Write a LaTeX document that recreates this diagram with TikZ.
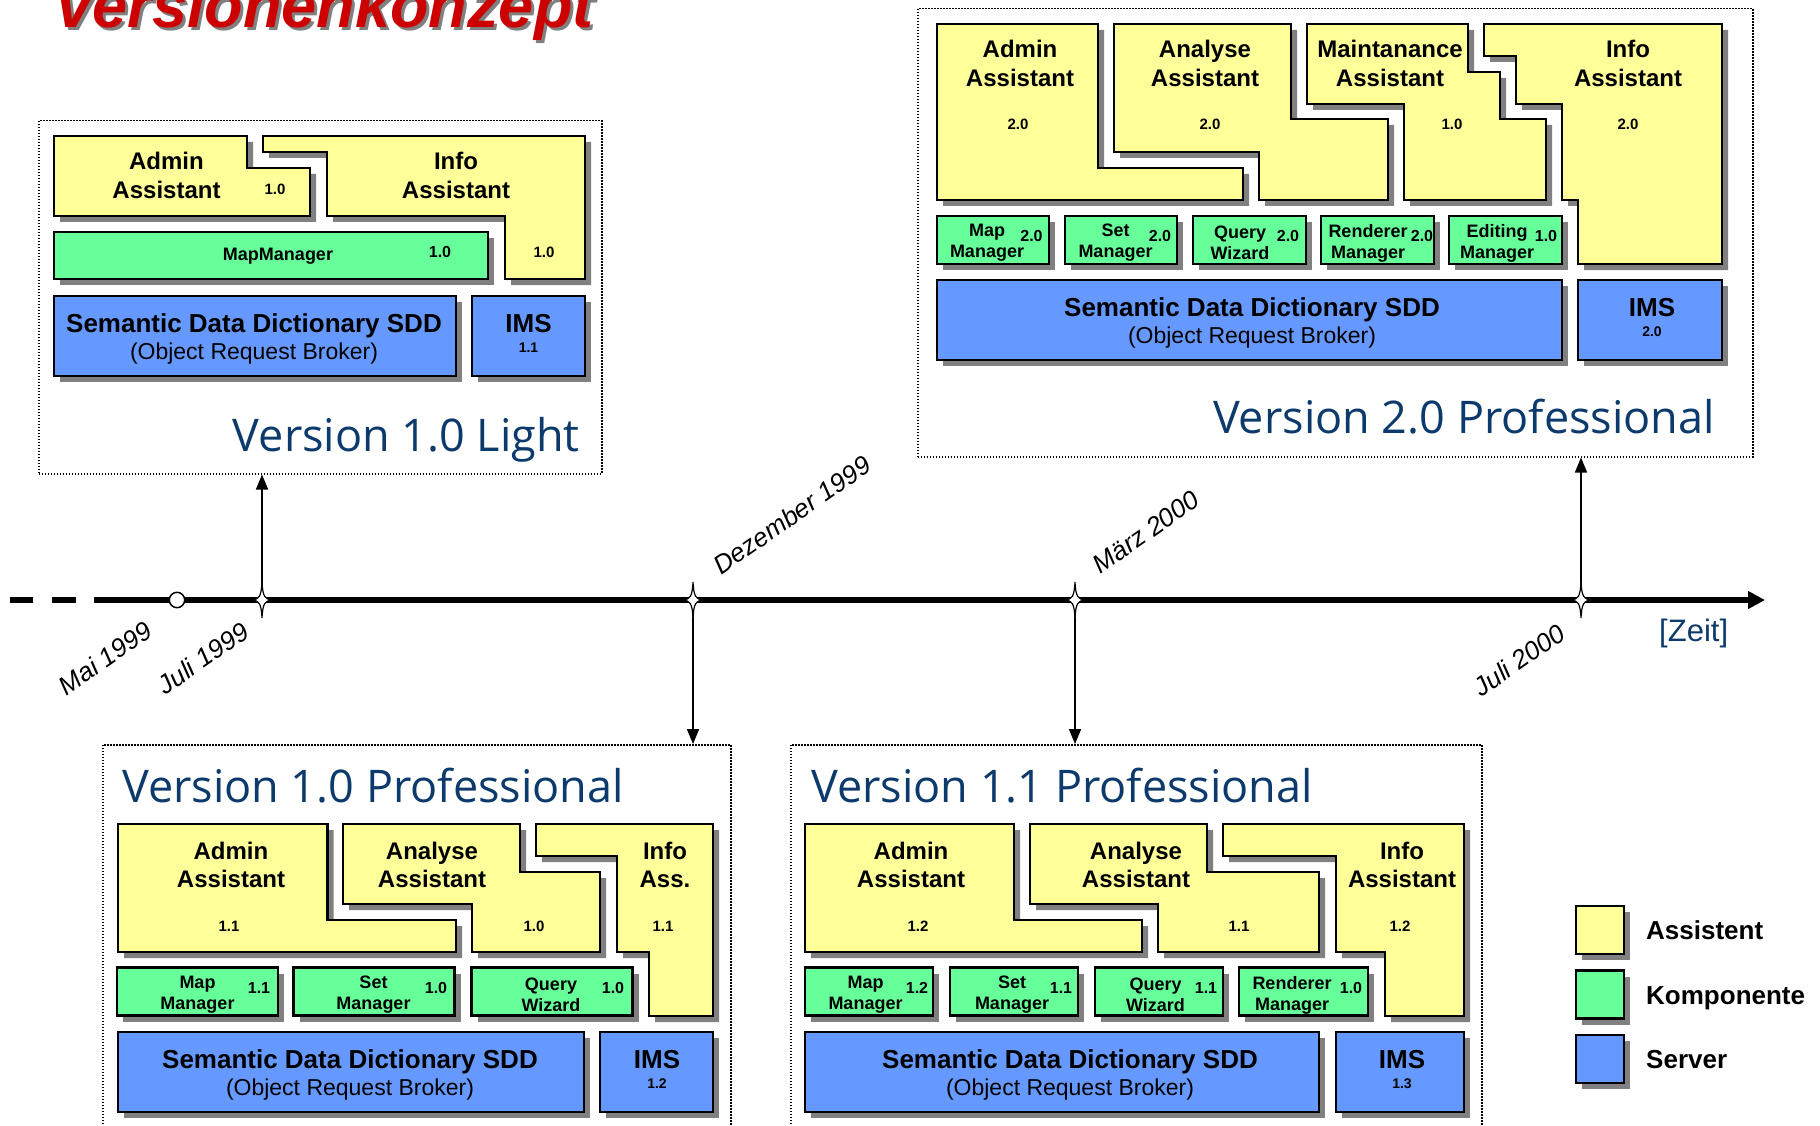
\documentclass[tikz,border=0pt]{standalone}
\usepackage{fontspec}
\setmainfont{Liberation Sans}
\newfontfamily\titlefont{Open Sans}
\usetikzlibrary{shadows,arrows.meta}
\definecolor{asstyellow}{HTML}{FFFF99}
\definecolor{compgreen}{HTML}{66FF99}
\definecolor{servblue}{HTML}{6699FF}
\definecolor{shadowgray}{HTML}{808080}
\definecolor{titleblue}{HTML}{0C3A6C}
\definecolor{headred}{HTML}{CC0000}

\begin{document}
\begin{tikzpicture}[x=1pt,y=-1pt,
  frame/.style={draw,rectangle,inner sep=0pt,anchor=north west,line width=1.5pt,dash pattern=on 1.5pt off 1.5pt},
  box/.style={draw,line width=2.4pt,drop shadow={shadow xshift=6pt,shadow yshift=-6pt,fill=shadowgray,opacity=1}},
  asst/.style={box,fill=asstyellow},
  comp/.style={box,rectangle,inner sep=0pt,fill=compgreen},
  serv/.style={box,rectangle,inner sep=0pt,fill=servblue},
  asstname/.style={align=center,inner sep=0pt,font=\fontsize{24}{28.5}\selectfont\bfseries},
  compname/.style={align=center,inner sep=0pt,font=\fontsize{18}{21}\selectfont\bfseries},
  vernum/.style={inner sep=0pt,font=\fontsize{15}{15}\selectfont\bfseries},
  compver/.style={inner sep=0pt,font=\fontsize{16}{16}\selectfont\bfseries},
  servname/.style={inner sep=0pt,font=\fontsize{26}{26}\selectfont\bfseries},
  orbname/.style={inner sep=0pt,font=\fontsize{23}{23}\selectfont},
  imsver/.style={inner sep=0pt,font=\fontsize{14}{14}\selectfont\bfseries},
  vertitle/.style={inner sep=0pt,text=titleblue,font=\titlefont\fontsize{45}{45}\selectfont},
  datelabel/.style={inner sep=0pt,rotate=35,font=\fontsize{26}{26}\selectfont\itshape},
  legtext/.style={inner sep=0pt,anchor=base west,font=\fontsize{26}{26}\selectfont\bfseries},
  conn/.style={line width=1.6pt,-{Triangle[length=15pt,width=12pt]}},
  timeline/.style={line width=5.3pt},
  tickstar/.pic={\draw[fill=white,line width=1.2pt] (0,-18) .. controls (0.8,-3) and (3,-0.8) .. (10,0) .. controls (3,0.8) and (0.8,3) .. (0,18) .. controls (-0.8,3) and (-3,0.8) .. (-10,0) .. controls (-3,-0.8) and (-0.8,-3) .. (0,-18) -- cycle;}]

  \useasboundingbox (0,0) rectangle (1820,1126);
  \clip (0,0) rectangle (1820,1126);

  \node[anchor=base west,inner sep=0pt,text=shadowgray,font=\fontsize{63}{63}\selectfont\bfseries\itshape] (head-shadow) at (56,31) {Versionenkonzept};
  \node[anchor=base west,inner sep=0pt,text=headred,font=\fontsize{63}{63}\selectfont\bfseries\itshape] (head) at (53,28) {Versionenkonzept};

  \node[frame,minimum width=563pt,minimum height=353pt] (light) at (38,120) {};
  \node[frame,minimum width=835pt,minimum height=448pt] (pro2) at (917,8) {};
  \node[frame,minimum width=628pt,minimum height=400pt] (pro10) at (102,744) {};
  \node[frame,minimum width=691pt,minimum height=400pt] (pro11) at (790,744) {};

  \coordinate (t-mai) at (177,600);
  \coordinate (t-jul99) at (262,600);
  \coordinate (t-dez) at (693,600);
  \coordinate (t-mar) at (1075,600);
  \coordinate (t-jul00) at (1581,600);
  \coordinate (t-end) at (1765,600);

  \draw[conn] (t-jul99) -- (t-jul99 |- light.south);
  \draw[conn] (t-dez) -- (t-dez |- pro10.north);
  \draw[conn] (t-mar) -- (t-mar |- pro11.north);
  \draw[conn] (t-jul00) -- (t-jul00 |- pro2.south);

  \draw[timeline] (10,600) -- (33,600);
  \draw[timeline] (52,600) -- (76,600);
  \draw[timeline,-{Triangle[length=17pt,width=17pt]}] (94,600) -- (t-end);
  \draw[fill=white,line width=1.5pt] (t-mai) circle (7.7);
  \pic at (t-jul99) {tickstar};
  \pic at (t-dez) {tickstar};
  \pic at (t-mar) {tickstar};
  \pic at (t-jul00) {tickstar};

  \node[datelabel] (d-mai) at (105,658) {Mai 1999};
  \node[datelabel] (d-jul99) at (203,658) {Juli 1999};
  \node[datelabel] (d-dez) at (792,515) {Dezember 1999};
  \node[datelabel] (d-mar) at (1146,532) {März 2000};
  \node[datelabel] (d-jul00) at (1519,660) {Juli 2000};
  \node[anchor=base west,inner sep=0pt,text=titleblue,font=\fontsize{31}{31}\selectfont] (zeit) at (1659,641) {[Zeit]};

  \draw[asst] (54,136) -- (247,136) -- (247,168) -- (310,168) -- (310,216) -- (54,216) -- cycle;
  \draw[asst] (263,136) -- (585,136) -- (585,279) -- (505,279) -- (505,216) -- (327,216) -- (327,152) -- (263,152) -- cycle;
  \node[comp,minimum width=434pt,minimum height=47pt] (l-map) at (271,255.5) {};
  \node[serv,minimum width=402pt,minimum height=80pt] (l-sdd) at (255,336) {};
  \node[serv,minimum width=113pt,minimum height=80pt] (l-ims) at (528.5,336) {};

  \node[asstname] (l-admin) at (166.5,175.5) {Admin\\Assistant};
  \node[vernum] (l-admin-v) at (275,189) {1.0};
  \node[asstname] (l-info) at (456,175.5) {Info\\Assistant};
  \node[vernum] (l-info-v) at (544,252) {1.0};
  \node[compname] (l-map-t) at (278,256) {MapManager};
  \node[compver] (l-map-v) at (440,252) {1.0};
  \node[servname] (l-sdd-t) at (254,326) {Semantic Data Dictionary SDD};
  \node[orbname] (l-sdd-o) at (254,354) {(Object Request Broker)};
  \node[servname] (l-ims-t) at (528.5,324) {IMS};
  \node[imsver] (l-ims-v) at (528.5,348) {1.1};
  \node[vertitle,anchor=base east] (l-title) at (580,451) {Version 1.0 Light};

  \draw[asst] (937,24) -- (1098,24) -- (1098,168) -- (1243,168) -- (1243,200) -- (937,200) -- cycle;
  \draw[asst] (1114,24) -- (1291,24) -- (1291,119) -- (1388,119) -- (1388,200) -- (1259,200) -- (1259,152) -- (1114,152) -- cycle;
  \draw[asst] (1307,24) -- (1468,24) -- (1468,72) -- (1500,72) -- (1500,119) -- (1546,119) -- (1546,200) -- (1404,200) -- (1404,104) -- (1307,104) -- cycle;
  \draw[asst] (1484,24) -- (1722,24) -- (1722,264) -- (1578,264) -- (1578,200) -- (1562,200) -- (1562,104) -- (1516,104) -- (1516,56) -- (1484,56) -- cycle;
  \node[comp,minimum width=112pt,minimum height=48pt] (p2-map) at (993,240) {};
  \node[comp,minimum width=112pt,minimum height=48pt] (p2-set) at (1121,240) {};
  \node[comp,minimum width=113pt,minimum height=48pt] (p2-query) at (1249.5,240) {};
  \node[comp,minimum width=113pt,minimum height=48pt] (p2-rend) at (1377.5,240) {};
  \node[comp,minimum width=113pt,minimum height=48pt] (p2-edit) at (1505.5,240) {};
  \node[serv,minimum width=625pt,minimum height=80pt] (p2-sdd) at (1249.5,320) {};
  \node[serv,minimum width=144pt,minimum height=80pt] (p2-ims) at (1650,320) {};

  \node[asstname] (p2-admin) at (1020,63.5) {Admin\\Assistant};
  \node[vernum] (p2-admin-v) at (1018,124) {2.0};
  \node[asstname] (p2-analyse) at (1205,63.5) {Analyse\\Assistant};
  \node[vernum] (p2-analyse-v) at (1210,124) {2.0};
  \node[asstname] (p2-maint) at (1390,63.5) {Maintanance\\Assistant};
  \node[vernum] (p2-maint-v) at (1452,124) {1.0};
  \node[asstname] (p2-info) at (1628,63.5) {Info\\Assistant};
  \node[vernum] (p2-info-v) at (1628,124) {2.0};
  \node[compname] (p2-map-t) at (987,243) {Map\\Manager};
  \node[compver] (p2-map-v) at (1031.5,235.5) {2.0};
  \node[compname] (p2-set-t) at (1115.5,243) {Set\\Manager};
  \node[compver] (p2-set-v) at (1160,235.5) {2.0};
  \node[compname] (p2-query-t) at (1240,243) {Query\\Wizard};
  \node[compver] (p2-query-v) at (1288,235.5) {2.0};
  \node[compname] (p2-rend-t) at (1368,243) {Renderer\\Manager};
  \node[compver] (p2-rend-v) at (1422,235.5) {2.0};
  \node[compname] (p2-edit-t) at (1497,243) {Editing\\Manager};
  \node[compver] (p2-edit-v) at (1546,235.5) {1.0};
  \node[servname] (p2-sdd-t) at (1252,310) {Semantic Data Dictionary SDD};
  \node[orbname] (p2-sdd-o) at (1252,338) {(Object Request Broker)};
  \node[servname] (p2-ims-t) at (1652,308) {IMS};
  \node[imsver] (p2-ims-v) at (1652,332) {2.0};
  \node[vertitle,anchor=base east] (p2-title) at (1715,433) {Version 2.0 Professional};

  \node[vertitle,anchor=base west] (a-title) at (122,802) {Version 1.0 Professional};
  \draw[asst] (118,824) -- (327.5,824) -- (327.5,920) -- (456,920) -- (456,952) -- (118,952) -- cycle;
  \draw[asst] (343,824) -- (520,824) -- (520,872) -- (600,872) -- (600,952) -- (472,952) -- (472,904) -- (343,904) -- cycle;
  \draw[asst] (536,824) -- (713,824) -- (713,1016) -- (649,1016) -- (649,952) -- (617,952) -- (617,856) -- (536,856) -- cycle;
  \node[comp,minimum width=161pt,minimum height=48pt] (a-map) at (197.5,991.5) {};
  \node[comp,minimum width=161pt,minimum height=48pt] (a-set) at (374,991.5) {};
  \node[comp,minimum width=161pt,minimum height=48pt] (a-query) at (552,991.5) {};
  \node[serv,minimum width=466pt,minimum height=80pt] (a-sdd) at (351,1072) {};
  \node[serv,minimum width=113pt,minimum height=80pt] (a-ims) at (656.5,1072) {};

  \node[asstname] (a-admin) at (231,865) {Admin\\Assistant};
  \node[vernum] (a-admin-v) at (229,926) {1.1};
  \node[asstname] (a-analyse) at (432,865) {Analyse\\Assistant};
  \node[vernum] (a-analyse-v) at (534,926) {1.0};
  \node[asstname] (a-info) at (665,865) {Info\\Ass.};
  \node[vernum] (a-info-v) at (663,926) {1.1};
  \node[compname] (a-map-t) at (197.5,995) {Map\\Manager};
  \node[compver] (a-map-v) at (259,988) {1.1};
  \node[compname] (a-set-t) at (373.5,995) {Set\\Manager};
  \node[compver] (a-set-v) at (436,988) {1.0};
  \node[compname] (a-query-t) at (551,995) {Query\\Wizard};
  \node[compver] (a-query-v) at (613,988) {1.0};
  \node[servname] (a-sdd-t) at (350,1062) {Semantic Data Dictionary SDD};
  \node[orbname] (a-sdd-o) at (350,1090) {(Object Request Broker)};
  \node[servname] (a-ims-t) at (657,1060) {IMS};
  \node[imsver] (a-ims-v) at (657,1084) {1.2};

  \node[vertitle,anchor=base west] (b-title) at (811,802) {Version 1.1 Professional};
  \draw[asst] (805,824) -- (1014,824) -- (1014,920) -- (1142,920) -- (1142,952) -- (805,952) -- cycle;
  \draw[asst] (1030,824) -- (1207,824) -- (1207,872) -- (1319,872) -- (1319,952) -- (1158,952) -- (1158,904) -- (1030,904) -- cycle;
  \draw[asst] (1223,824) -- (1464,824) -- (1464,1016) -- (1385,1016) -- (1385,952) -- (1336,952) -- (1336,856) -- (1223,856) -- cycle;
  \node[comp,minimum width=128pt,minimum height=48pt] (b-map) at (869,991.5) {};
  \node[comp,minimum width=128pt,minimum height=48pt] (b-set) at (1014,991.5) {};
  \node[comp,minimum width=128pt,minimum height=48pt] (b-query) at (1159,991.5) {};
  \node[comp,minimum width=129pt,minimum height=48pt] (b-rend) at (1303.5,991.5) {};
  \node[serv,minimum width=514pt,minimum height=80pt] (b-sdd) at (1062,1072) {};
  \node[serv,minimum width=128pt,minimum height=80pt] (b-ims) at (1400,1072) {};

  \node[asstname] (b-admin) at (911,865) {Admin\\Assistant};
  \node[vernum] (b-admin-v) at (918,926) {1.2};
  \node[asstname] (b-analyse) at (1136,865) {Analyse\\Assistant};
  \node[vernum] (b-analyse-v) at (1239,926) {1.1};
  \node[asstname] (b-info) at (1402,865) {Info\\Assistant};
  \node[vernum] (b-info-v) at (1400,926) {1.2};
  \node[compname] (b-map-t) at (865.5,995) {Map\\Manager};
  \node[compver] (b-map-v) at (917,988) {1.2};
  \node[compname] (b-set-t) at (1012,995) {Set\\Manager};
  \node[compver] (b-set-v) at (1061,988) {1.1};
  \node[compname] (b-query-t) at (1155.5,995) {Query\\Wizard};
  \node[compver] (b-query-v) at (1206,988) {1.1};
  \node[compname] (b-rend-t) at (1292,995) {Renderer\\Manager};
  \node[compver] (b-rend-v) at (1351,988) {1.0};
  \node[servname] (b-sdd-t) at (1070,1062) {Semantic Data Dictionary SDD};
  \node[orbname] (b-sdd-o) at (1070,1090) {(Object Request Broker)};
  \node[servname] (b-ims-t) at (1402,1060) {IMS};
  \node[imsver] (b-ims-v) at (1402,1084) {1.3};

  \node[box,rectangle,inner sep=0pt,minimum size=48pt,fill=asstyellow] (leg-asst) at (1600,930) {};
  \node[box,rectangle,inner sep=0pt,minimum size=48pt,fill=compgreen] (leg-comp) at (1600,994.5) {};
  \node[box,rectangle,inner sep=0pt,minimum size=48pt,fill=servblue] (leg-serv) at (1600,1059) {};
  \node[legtext] (leg-asst-t) at (1646,939.5) {Assistent};
  \node[legtext] (leg-comp-t) at (1646,1004) {Komponente};
  \node[legtext] (leg-serv-t) at (1646,1068.5) {Server};

\end{tikzpicture}
\end{document}
